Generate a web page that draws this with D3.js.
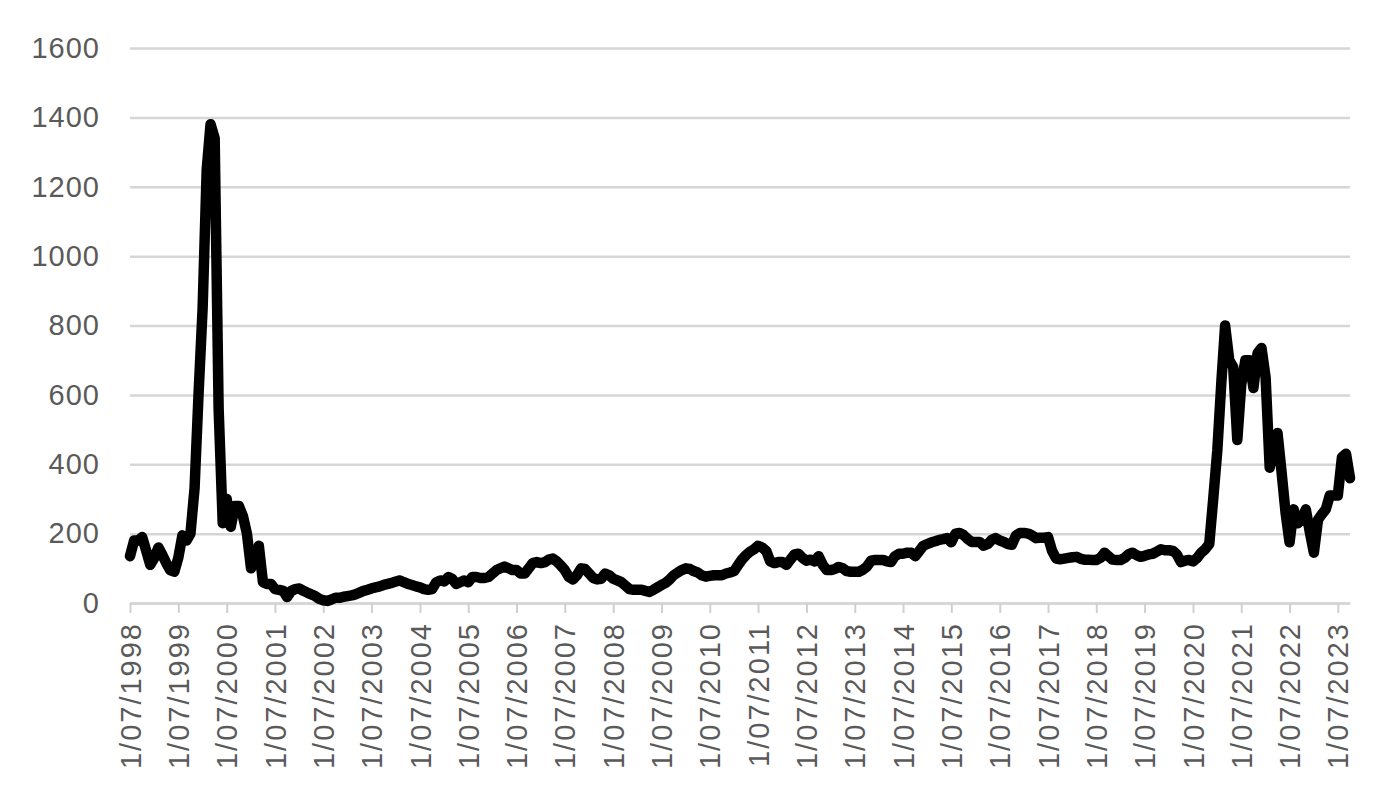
<!DOCTYPE html>
<html>
<head>
<meta charset="utf-8">
<script src="https://cdn.jsdelivr.net/npm/d3@7"></script>
<style>
  body { margin: 0; background: #fff; }
  svg { display: block; }
</style>
</head>
<body>
<script>
var width = 1400,
    height = 809;

var margin = {top: 48, right: 50, bottom: 206, left: 130};

// monthly values, first point is 1/07/1998
var startMonth = new Date(1998, 6, 1);
var endMonth = new Date(2023, 9, 1);
var values = [
  135,180,180,190,150,110,130,160,140,115,95,90,130,195,180,
  200,330,600,850,1250,1380,1340,560,230,
  300,220,280,280,250,200,100,130,165,60,55,55,
  40,38,35,17,35,40,42,35,30,25,20,12,
  8,6,10,15,15,18,20,22,25,30,35,38,
  42,45,48,52,55,58,62,65,60,55,52,48,
  45,40,38,40,60,65,62,75,70,55,60,65,
  60,75,75,72,72,75,85,95,100,105,100,95,
  95,85,85,100,115,118,115,118,125,128,120,108,
  95,75,68,80,100,98,85,72,68,70,85,80,
  70,65,60,50,40,38,38,38,35,32,38,45,
  52,58,68,80,88,95,100,98,92,88,80,76,
  78,80,80,80,85,88,92,110,125,138,148,155,
  165,160,150,120,115,118,118,110,125,140,142,130,
  122,125,120,135,110,95,95,98,104,100,92,90,
  90,90,96,105,122,124,124,124,120,118,135,142,
  142,145,145,135,150,165,170,175,178,182,184,187,
  175,200,202,196,185,176,176,176,165,170,182,187,
  180,176,170,168,195,202,202,200,195,187,188,188,
  190,150,128,126,128,130,132,133,128,125,125,124,
  124,130,145,135,125,124,124,130,140,145,138,133,
  136,140,142,148,155,152,152,150,140,118,122,124,
  120,130,145,155,170,300,440,640,800,700,680,470,
  630,700,700,620,720,735,650,390,440,490,380,260,
  175,270,230,240,270,205,145,240,255,270,310,310,
  310,420,430,360
];

var yTicks = [0, 200, 400, 600, 800, 1000, 1200, 1400, 1600];
var xTickYears = d3.range(1998, 2024);

var data = values.map(function(v, i) {
  return {date: d3.timeMonth.offset(startMonth, i), value: v};
});

var svg = d3.select('body')
  .append('svg')
  .attr('width', width)
  .attr('height', height);

var w = width - margin.left - margin.right,
    h = height - margin.top - margin.bottom;

var g = svg.append('g')
  .attr('transform', 'translate(' + margin.left + ',' + margin.top + ')');

var x = d3.scaleTime()
  .domain([startMonth, endMonth])
  .range([0, w]);

var y = d3.scaleLinear()
  .domain([0, 1600])
  .range([h, 0]);

// gridlines + y labels
var yAxis = g.append('g')
  .call(d3.axisLeft(y)
    .tickValues(yTicks)
    .tickFormat(d3.format('d'))
    .tickSize(-w)
    .tickPadding(30));
yAxis.select('.domain').remove();
yAxis.selectAll('.tick line')
  .attr('stroke', '#d6d6d6')
  .attr('stroke-width', 2.5);
yAxis.selectAll('.tick text')
  .attr('fill', '#5a5a5a')
  .style('font-family', 'Liberation Sans, Arial, sans-serif')
  .style('font-size', '29px')
  .style('letter-spacing', '1px');

// x axis
var xAxis = g.append('g')
  .attr('transform', 'translate(0,' + h + ')')
  .call(d3.axisBottom(x)
    .tickValues(xTickYears.map(function(yr) { return new Date(yr, 6, 1); }))
    .tickFormat(function(d) { return '1/07/' + d.getFullYear(); })
    .tickSize(10)
    .tickSizeOuter(0));
xAxis.select('.domain')
  .attr('stroke', '#d6d6d6')
  .attr('stroke-width', 2.5);
xAxis.selectAll('.tick line')
  .attr('stroke', '#d0d0d0')
  .attr('stroke-width', 2);
xAxis.selectAll('.tick text')
  .attr('fill', '#5a5a5a')
  .attr('transform', 'rotate(-90)')
  .attr('text-anchor', 'end')
  .attr('x', -19)
  .attr('y', 0)
  .attr('dy', '0.35em')
  .style('font-family', 'Liberation Sans, Arial, sans-serif')
  .style('font-size', '29px')
  .style('letter-spacing', '2px');

var line = d3.line()
  .x(function(d) { return x(d.date); })
  .y(function(d) { return y(d.value); });

g.append('path')
  .datum(data)
  .attr('fill', 'none')
  .attr('stroke', '#000')
  .attr('stroke-width', 10.5)
  .attr('stroke-linejoin', 'round')
  .attr('stroke-linecap', 'round')
  .attr('d', line);
</script>
</body>
</html>
